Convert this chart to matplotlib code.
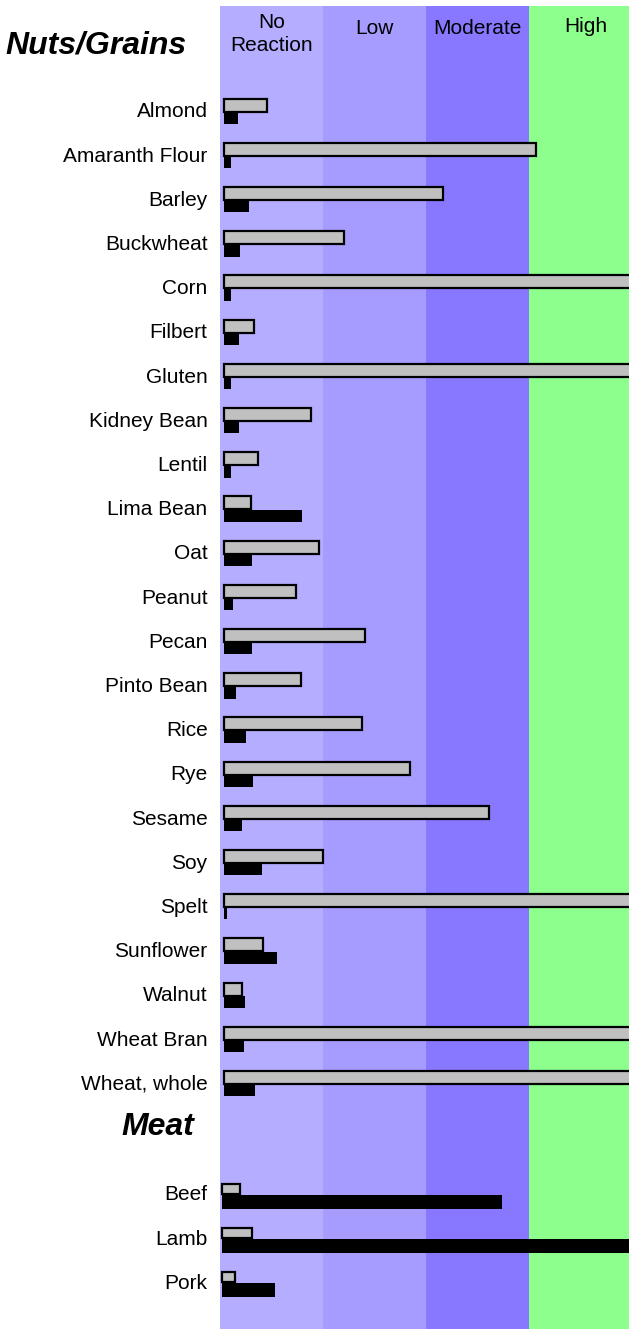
import numpy as np
import matplotlib.pyplot as plt
from matplotlib.transforms import blended_transform_factory

plt.rcParams['font.family'] = ['Liberation Sans', 'DejaVu Sans']

# reaction bands (each band is 100 units wide)
bands = ['No\nReaction', 'Low', 'Moderate', 'High']
band_colors = ['#B5ADFF', '#A69CFF', '#8878FF', '#8DFF8D']

# Nuts/Grains
nuts = ['Almond', 'Amaranth Flour', 'Barley', 'Buckwheat', 'Corn', 'Filbert',
        'Gluten', 'Kidney Bean', 'Lentil', 'Lima Bean', 'Oat', 'Peanut', 'Pecan',
        'Pinto Bean', 'Rice', 'Rye', 'Sesame', 'Soy', 'Spelt', 'Sunflower',
        'Walnut', 'Wheat Bran', 'Wheat, whole']
nuts_grey = [41.7, 303, 212.6, 116.5, 420, 29, 420, 84, 33, 26, 92, 70, 137,
             75, 134, 180.6, 257, 96, 420, 37.6, 17.8, 420, 420]
nuts_black = [13.6, 6.3, 24, 15.5, 6.3, 14.6, 6.3, 14.6, 7, 76, 27, 9, 27,
              11.6, 21, 28, 17.5, 36.6, 3, 51, 20, 19.4, 30]

# Meat
meat = ['Beef', 'Lamb', 'Pork']
meat_grey = [17, 29, 13]
meat_black = [272, 420, 51]

fig = plt.figure(figsize=(6.29, 13.3), dpi=100)
W, H = 629, 1330
ax = fig.add_axes([220 / W, 1 - 1329 / H, (W - 220) / W, (1329 - 6) / H])
ax.set_xlim(0, 397)
ax.set_ylim(27.58, -2.353)
for s in ax.spines.values():
    s.set_visible(False)

for i, c in enumerate(band_colors):
    ax.axvspan(i * 100, (i + 1) * 100 + (30 if i == 3 else 0), color=c, lw=0, zorder=0)

hdr_x = [50, 150, 250, 355]
hdr_y = [-1.72, -1.855, -1.855, -1.9]
for name, x, y in zip(bands, hdr_x, hdr_y):
    ax.text(x, y, name, ha='center', va='center', fontsize=15, linespacing=1.3)

y_nuts = np.arange(len(nuts))
ax.barh(y_nuts - 0.11, nuts_grey, height=0.294, left=4, color='#C0C0C0',
        edgecolor='black', linewidth=1.6, zorder=2)
ax.barh(y_nuts + 0.18, nuts_black, height=0.27, left=4, color='black',
        linewidth=0, zorder=3)

y_meat = np.arange(len(meat)) + 24.5
ax.barh(y_meat - 0.09, meat_grey, height=0.226, left=2, color='#C0C0C0',
        edgecolor='black', linewidth=1.6, zorder=2)
ax.barh(y_meat + 0.2, meat_black, height=0.317, left=2, color='black',
        linewidth=0, zorder=3)

ax.set_yticks(list(y_nuts) + list(y_meat))
ax.set_yticklabels(nuts + meat, fontsize=15)
ax.tick_params(axis='y', length=0, pad=9)
ax.set_xticks([])

tr = blended_transform_factory(fig.transFigure, ax.transData)
ax.text(187 / W, -1.45, 'Nuts/Grains', transform=tr, ha='right', va='center',
        fontsize=23, fontweight='bold', fontstyle='italic')
ax.text(194 / W, 23, 'Meat', transform=tr, ha='right', va='center',
        fontsize=23, fontweight='bold', fontstyle='italic')

fig.savefig('out.png', dpi=100)
